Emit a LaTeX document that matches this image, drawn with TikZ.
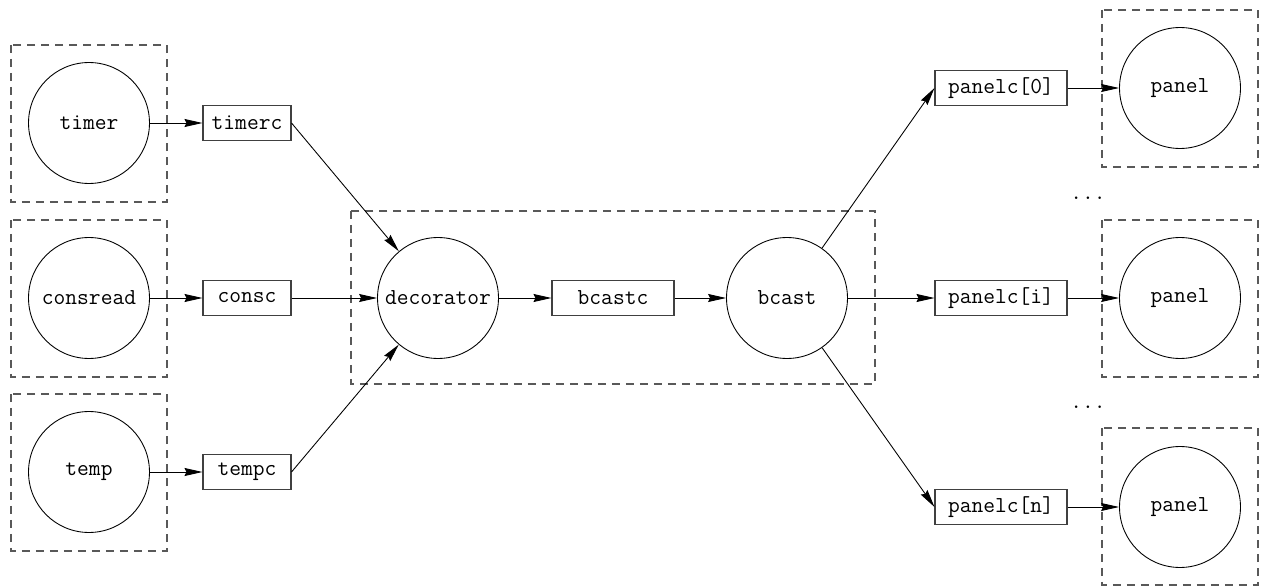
\documentclass[tikz,border=0pt]{standalone}
\usetikzlibrary{arrows.meta}
\begin{document}
\begin{tikzpicture}[x=0.02cm,y=-0.02cm,
  every node/.style={font=\ttfamily\fontsize{13}{15}\selectfont},
  proc/.style={circle,draw=black,line width=0.5pt,minimum size=2.42cm,inner sep=0pt},
  chan/.style={rectangle,draw=black!75,line width=0.6pt,minimum height=0.7cm,inner sep=0pt},
  frame/.style={draw=black!65,line width=0.6pt,dash pattern=on 0.16cm off 0.12cm},
  conn/.style={draw=black,line width=0.5pt,-{Stealth[length=0.36cm,width=0.16cm,inset=0.04cm]}},
  dots/.style={anchor=base,inner sep=0pt}]
\useasboundingbox (0,0) rectangle (1262,588);
% frames
\draw[frame] (11,45) rectangle (167,202);
\draw[frame] (11,220) rectangle (167,377);
\draw[frame] (11,394) rectangle (167,551);
\draw[frame] (351,211) rectangle (875,384);
\draw[frame] (1102,10) rectangle (1258,167);
\draw[frame] (1102,220) rectangle (1258,377);
\draw[frame] (1102,428) rectangle (1258,585);
% processes
\node[proc] (timer) at (89,123) {timer};
\node[proc] (consread) at (89,298) {consread};
\node[proc] (temp) at (89,472) {temp};
\node[proc] (decorator) at (438,298) {decorator};
\node[proc] (bcast) at (787,298) {bcast};
\node[proc] (panel0) at (1180,88) {panel};
\node[proc] (paneli) at (1180,298) {panel};
\node[proc] (paneln) at (1180,507) {panel};
% channels
\node[chan,minimum width=1.76cm] (timerc) at (247,123) {timerc};
\node[chan,minimum width=1.76cm] (consc) at (247,298) {consc};
\node[chan,minimum width=1.76cm] (tempc) at (247,472) {tempc};
\node[chan,minimum width=2.44cm] (bcastc) at (613,298) {bcastc};
\node[chan,minimum width=2.64cm] (panelc0) at (1001,88) {panelc[0]};
\node[chan,minimum width=2.64cm] (panelci) at (1001,298) {panelc[i]};
\node[chan,minimum width=2.64cm] (panelcn) at (1001,507) {panelc[n]};
% dots
\node[dots] (dots1) at (1088,199) {...};
\node[dots] (dots2) at (1088,408) {...};
% connectors
\draw[conn] (timer) -- (timerc);
\draw[conn] (consread) -- (consc);
\draw[conn] (temp) -- (tempc);
\draw[conn] (timerc.east) -- (decorator);
\draw[conn] (consc) -- (decorator);
\draw[conn] (tempc.east) -- (decorator);
\draw[conn] (decorator) -- (bcastc);
\draw[conn] (bcastc) -- (bcast);
\draw[conn] (bcast) -- (panelc0.west);
\draw[conn] (bcast) -- (panelci);
\draw[conn] (bcast) -- (panelcn.west);
\draw[conn] (panelc0) -- (panel0);
\draw[conn] (panelci) -- (paneli);
\draw[conn] (panelcn) -- (paneln);
\end{tikzpicture}
\end{document}
